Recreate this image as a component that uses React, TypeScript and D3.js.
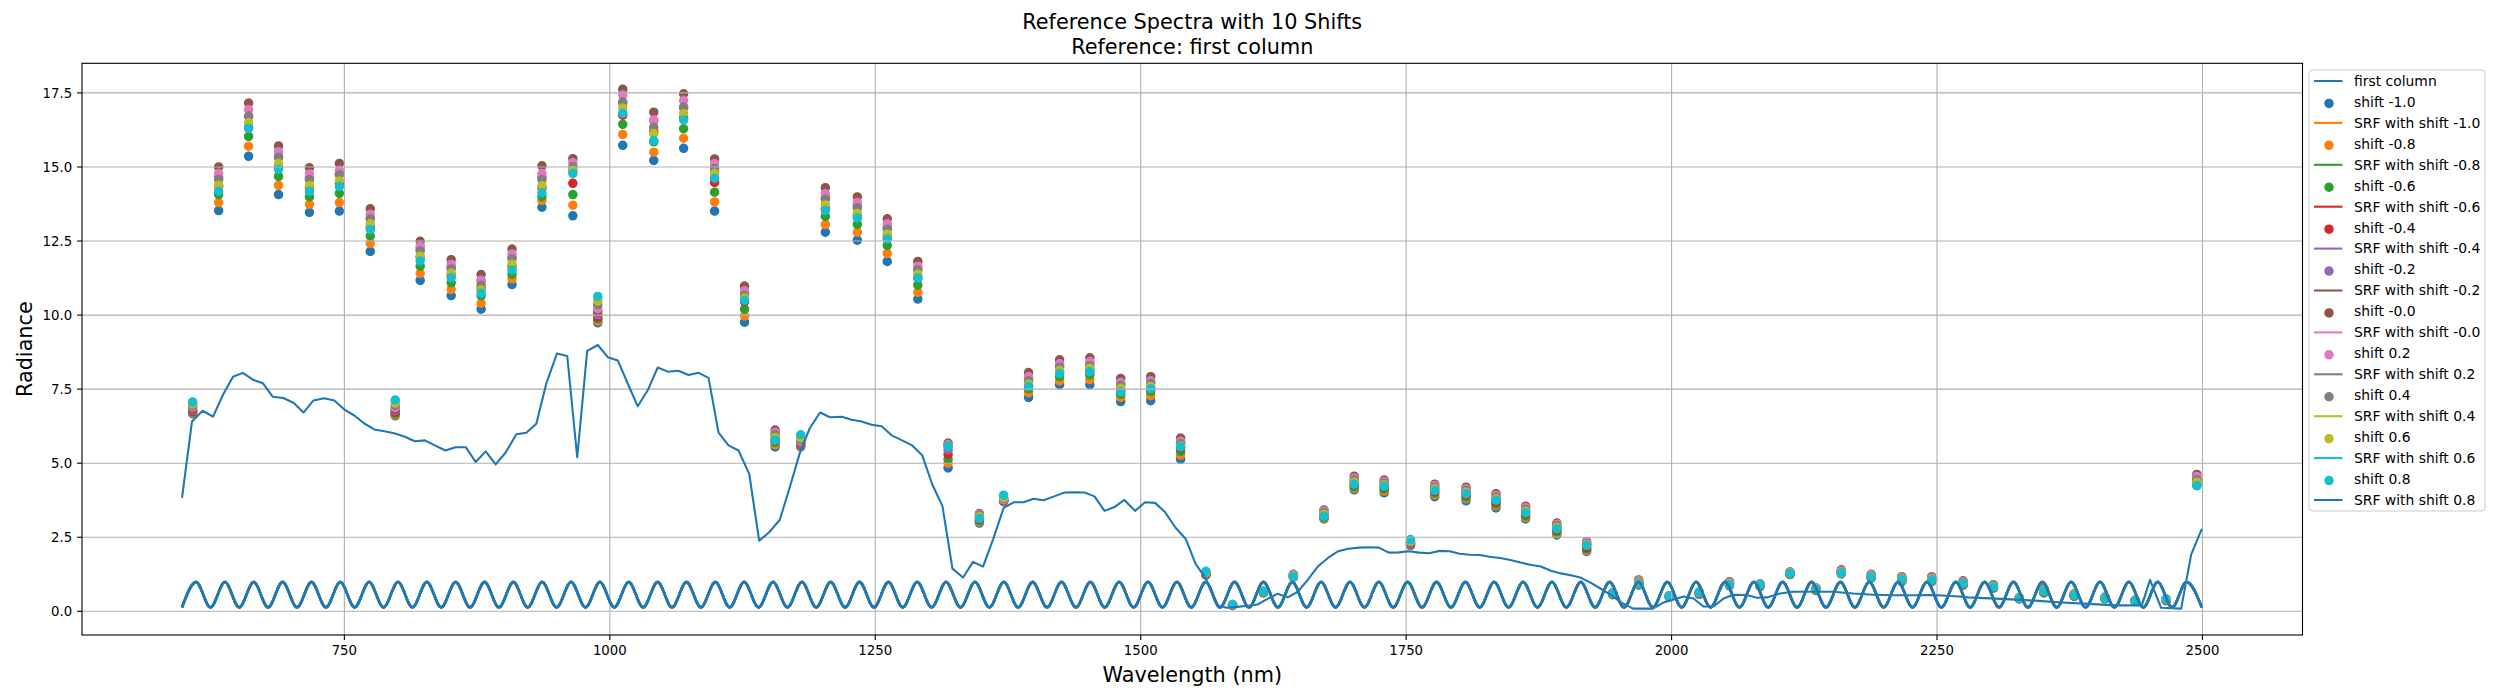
import React from 'react';
import * as d3 from 'd3';

// ---------------- DATA ----------------
const bandCenters = [607.1, 631.6, 659.8, 688.0, 717.1, 745.3, 774.4, 797.9, 821.4, 850.6, 878.8, 907.9, 936.1, 965.2, 988.7, 1012.2, 1041.4, 1069.5, 1098.7, 1126.9, 1155.7, 1179.8, 1203.0, 1233.1, 1261.3, 1290.1, 1318.6, 1348.1, 1370.9, 1394.4, 1423.6, 1452.1, 1481.2, 1509.4, 1537.6, 1561.4, 1586.5, 1615.6, 1643.8, 1672.6, 1701.1, 1729.3, 1754.1, 1776.9, 1806.4, 1834.6, 1862.5, 1891.9, 1920.0, 1944.5, 1969.0, 1997.8, 2026.0, 2054.5, 2083.3, 2111.5, 2136.0, 2159.8, 2188.0, 2216.8, 2245.0, 2274.5, 2303.1, 2327.4, 2350.6, 2379.2, 2408.2, 2436.5, 2465.7, 2494.7];

const radShiftM10 = [6.67, 13.53, 15.36, 14.07, 13.47, 13.51, 12.15, 6.60, 11.17, 10.66, 10.20, 11.03, 13.64, 13.35, 9.74, 15.73, 15.22, 15.63, 13.51, 9.76, 5.55, 5.55, 12.80, 12.53, 11.81, 10.54, 4.84, 2.98, 3.70, 7.22, 7.65, 7.65, 7.08, 7.11, 5.13, 1.22, 0.20, 0.62, 1.15, 3.12, 4.10, 4.00, 2.22, 3.87, 3.73, 3.49, 3.12, 2.58, 2.02, 0.56, 0.88, 0.48, 0.57, 0.86, 0.84, 1.24, 0.70, 1.26, 1.12, 1.00, 1.00, 0.88, 0.78, 0.42, 0.62, 0.50, 0.42, 0.34, 0.36, 4.25];
const radShiftM08 = [6.70, 13.80, 15.70, 14.38, 13.74, 13.80, 12.42, 6.63, 11.41, 10.87, 10.40, 11.22, 13.87, 13.71, 9.80, 16.10, 15.50, 15.97, 13.82, 9.97, 5.62, 5.58, 13.06, 12.80, 12.08, 10.77, 5.00, 3.02, 3.71, 7.38, 7.78, 7.82, 7.22, 7.28, 5.27, 1.24, 0.20, 0.63, 1.16, 3.14, 4.15, 4.06, 2.24, 3.93, 3.80, 3.56, 3.17, 2.63, 2.06, 0.57, 0.90, 0.49, 0.58, 0.88, 0.85, 1.25, 0.71, 1.28, 1.14, 1.02, 1.02, 0.89, 0.79, 0.42, 0.63, 0.51, 0.42, 0.34, 0.36, 4.30];
const radShiftM06 = [6.73, 14.07, 16.03, 14.68, 13.99, 14.11, 12.67, 6.67, 11.65, 11.09, 10.65, 11.38, 14.00, 14.07, 9.87, 16.44, 15.85, 16.29, 14.15, 10.20, 5.70, 5.61, 13.33, 13.06, 12.35, 11.01, 5.14, 3.06, 3.72, 7.51, 7.92, 7.98, 7.33, 7.42, 5.40, 1.25, 0.21, 0.64, 1.18, 3.17, 4.20, 4.12, 2.26, 3.99, 3.86, 3.62, 3.22, 2.68, 2.10, 0.58, 0.92, 0.50, 0.59, 0.90, 0.86, 1.26, 0.72, 1.30, 1.15, 1.04, 1.04, 0.90, 0.80, 0.43, 0.64, 0.52, 0.43, 0.35, 0.37, 4.36];
const radShiftM04 = [6.76, 14.35, 16.33, 14.98, 14.30, 14.45, 12.98, 6.72, 11.95, 11.35, 10.90, 11.65, 14.30, 14.45, 9.93, 16.75, 16.20, 16.65, 14.48, 10.45, 5.78, 5.64, 13.60, 13.35, 12.65, 11.25, 5.30, 3.10, 3.73, 7.62, 8.05, 8.12, 7.45, 7.52, 5.52, 1.26, 0.21, 0.65, 1.20, 3.22, 4.28, 4.20, 2.28, 4.05, 3.93, 3.69, 3.28, 2.74, 2.15, 0.59, 0.95, 0.50, 0.60, 0.93, 0.88, 1.28, 0.73, 1.33, 1.17, 1.07, 1.07, 0.92, 0.82, 0.43, 0.66, 0.53, 0.44, 0.35, 0.37, 4.42];
const radShiftM02 = [6.80, 14.65, 16.70, 15.35, 14.63, 14.78, 13.28, 6.77, 12.25, 11.62, 11.15, 11.95, 14.65, 14.88, 10.01, 17.15, 16.55, 17.00, 14.85, 10.75, 5.92, 5.67, 13.95, 13.70, 12.95, 11.55, 5.45, 3.18, 3.74, 7.85, 8.30, 8.35, 7.68, 7.72, 5.70, 1.27, 0.22, 0.66, 1.22, 3.30, 4.40, 4.30, 2.30, 4.15, 4.05, 3.80, 3.40, 2.85, 2.24, 0.60, 1.00, 0.51, 0.62, 0.96, 0.90, 1.30, 0.75, 1.36, 1.20, 1.11, 1.11, 0.96, 0.85, 0.44, 0.70, 0.56, 0.46, 0.36, 0.38, 4.50];
const radShiftM00 = [6.85, 15.00, 17.16, 15.71, 14.97, 15.12, 13.59, 6.82, 12.49, 11.87, 11.37, 12.23, 15.04, 15.28, 10.11, 17.62, 16.85, 17.47, 15.27, 10.98, 6.12, 5.70, 14.30, 13.99, 13.25, 11.81, 5.68, 3.30, 3.75, 8.06, 8.49, 8.56, 7.86, 7.92, 5.85, 1.28, 0.22, 0.68, 1.25, 3.42, 4.56, 4.43, 2.32, 4.29, 4.19, 3.97, 3.55, 2.98, 2.35, 0.62, 1.06, 0.52, 0.65, 1.00, 0.93, 1.33, 0.79, 1.40, 1.25, 1.17, 1.17, 1.03, 0.90, 0.46, 0.77, 0.60, 0.48, 0.37, 0.39, 4.62];
const radShiftP02 = [6.90, 14.78, 16.94, 15.51, 14.76, 14.89, 13.40, 6.88, 12.33, 11.71, 11.18, 12.06, 14.78, 15.15, 10.22, 17.43, 16.59, 17.24, 15.11, 10.82, 6.04, 5.74, 14.10, 13.80, 13.08, 11.65, 5.63, 3.28, 3.77, 7.92, 8.36, 8.43, 7.73, 7.78, 5.74, 1.29, 0.22, 0.68, 1.24, 3.38, 4.50, 4.38, 2.34, 4.24, 4.14, 3.92, 3.50, 2.94, 2.32, 0.62, 1.03, 0.52, 0.65, 0.98, 0.92, 1.32, 0.78, 1.38, 1.23, 1.15, 1.15, 1.01, 0.88, 0.46, 0.75, 0.59, 0.47, 0.37, 0.40, 4.55];
const radShiftP04 = [6.95, 14.58, 16.72, 15.32, 14.57, 14.73, 13.24, 6.95, 12.16, 11.56, 11.01, 11.90, 14.57, 15.01, 10.35, 17.20, 16.34, 17.02, 14.95, 10.67, 5.96, 5.79, 13.91, 13.62, 12.90, 11.52, 5.60, 3.24, 3.80, 7.78, 8.24, 8.29, 7.62, 7.69, 5.66, 1.30, 0.23, 0.67, 1.22, 3.33, 4.43, 4.33, 2.36, 4.18, 4.08, 3.86, 3.44, 2.89, 2.28, 0.61, 1.00, 0.52, 0.64, 0.95, 0.92, 1.31, 0.77, 1.35, 1.21, 1.12, 1.12, 0.98, 0.86, 0.45, 0.72, 0.57, 0.46, 0.37, 0.40, 4.45];
const radShiftP06 = [7.00, 14.38, 16.49, 15.12, 14.37, 14.53, 13.08, 7.03, 11.99, 11.41, 10.85, 11.72, 14.37, 14.88, 10.48, 16.99, 16.13, 16.80, 14.78, 10.58, 5.87, 5.86, 13.72, 13.43, 12.73, 11.38, 5.58, 3.19, 3.84, 7.67, 8.13, 8.20, 7.53, 7.59, 5.58, 1.32, 0.23, 0.67, 1.20, 3.27, 4.36, 4.27, 2.38, 4.13, 4.02, 3.80, 3.38, 2.83, 2.25, 0.61, 0.97, 0.52, 0.64, 0.93, 0.91, 1.30, 0.76, 1.33, 1.19, 1.09, 1.09, 0.95, 0.84, 0.45, 0.69, 0.56, 0.45, 0.36, 0.41, 4.36];
const radShiftP08 = [7.07, 14.18, 16.30, 14.92, 14.18, 14.34, 12.89, 7.13, 11.83, 11.26, 10.74, 11.52, 14.13, 14.78, 10.63, 16.81, 15.89, 16.59, 14.62, 10.50, 5.78, 5.96, 13.53, 13.28, 12.57, 11.25, 5.57, 3.13, 3.92, 7.59, 8.02, 8.09, 7.41, 7.51, 5.55, 1.35, 0.23, 0.66, 1.17, 3.21, 4.29, 4.22, 2.42, 4.08, 3.97, 3.75, 3.32, 2.78, 2.22, 0.60, 0.93, 0.52, 0.63, 0.90, 0.90, 1.28, 0.74, 1.30, 1.17, 1.06, 1.06, 0.93, 0.82, 0.44, 0.66, 0.54, 0.44, 0.36, 0.42, 4.24];

const shiftLabels = ['-1.0', '-0.8', '-0.6', '-0.4', '-0.2', '-0.0', '0.2', '0.4', '0.6', '0.8'];

const refWavelengths = [597.1, 606.5, 616.5, 626.3, 635.7, 645.1, 654.4, 663.8, 673.2, 682.6, 692.4, 702.1, 711.5, 720.9, 730.9, 740.6, 750.0, 759.4, 768.8, 778.2, 787.6, 797.0, 806.4, 816.4, 825.8, 835.2, 845.2, 854.6, 864.3, 873.7, 883.1, 892.5, 901.9, 912.0, 921.4, 930.8, 940.2, 950.2, 959.9, 969.3, 978.7, 988.7, 998.1, 1007.5, 1016.9, 1026.3, 1035.7, 1045.1, 1054.5, 1064.5, 1074.2, 1083.6, 1093.0, 1102.4, 1111.8, 1121.2, 1131.3, 1140.7, 1150.1, 1160.1, 1169.5, 1178.9, 1188.3, 1198.0, 1207.4, 1218.4, 1227.8, 1237.2, 1246.6, 1256.0, 1265.4, 1274.8, 1284.8, 1294.2, 1303.6, 1313.3, 1322.7, 1332.7, 1342.1, 1351.5, 1360.9, 1370.9, 1380.3, 1389.7, 1399.1, 1408.5, 1418.5, 1428.3, 1437.7, 1447.1, 1456.5, 1465.9, 1475.3, 1484.6, 1494.7, 1504.1, 1513.5, 1522.9, 1532.9, 1542.3, 1551.7, 1561.4, 1571.7, 1581.1, 1591.2, 1600.6, 1610.0, 1619.4, 1628.8, 1638.5, 1647.9, 1657.3, 1667.3, 1676.7, 1686.1, 1695.5, 1705.5, 1714.9, 1724.3, 1733.7, 1743.1, 1752.5, 1762.2, 1771.6, 1781.6, 1791.0, 1800.4, 1809.8, 1819.2, 1828.6, 1838.7, 1848.1, 1857.5, 1866.9, 1876.9, 1886.3, 1895.7, 1905.1, 1914.8, 1923.6, 1933.0, 1942.4, 1952.4, 1963.7, 1982.5, 1992.5, 2011.3, 2020.7, 2030.0, 2039.5, 2048.9, 2058.3, 2070.8, 2080.2, 2089.6, 2102.0, 2114.7, 2133.5, 2152.3, 2171.0, 2189.8, 2208.6, 2227.4, 2246.2, 2271.3, 2279.2, 2310.7, 2342.1, 2367.3, 2389.3, 2417.6, 2442.8, 2450.6, 2461.0, 2479.9, 2489.3, 2499.4];
const refRadiance = [3.83, 6.41, 6.77, 6.57, 7.31, 7.92, 8.05, 7.82, 7.70, 7.24, 7.20, 7.04, 6.71, 7.12, 7.19, 7.12, 6.81, 6.61, 6.34, 6.14, 6.08, 6.01, 5.90, 5.74, 5.77, 5.60, 5.43, 5.54, 5.54, 5.04, 5.40, 4.96, 5.36, 5.98, 6.03, 6.33, 7.69, 8.70, 8.62, 5.20, 8.79, 8.99, 8.58, 8.47, 7.69, 6.92, 7.46, 8.23, 8.09, 8.12, 7.98, 8.05, 7.88, 6.03, 5.60, 5.43, 4.64, 2.38, 2.67, 3.09, 4.19, 5.34, 6.18, 6.71, 6.55, 6.57, 6.47, 6.41, 6.30, 6.25, 5.94, 5.78, 5.60, 5.27, 4.29, 3.55, 1.44, 1.14, 1.67, 1.51, 2.42, 3.49, 3.68, 3.68, 3.80, 3.75, 3.88, 4.01, 4.02, 4.01, 3.88, 3.39, 3.52, 3.76, 3.39, 3.68, 3.66, 3.35, 2.82, 2.45, 1.60, 1.10, 0.20, 0.12, 0.15, 0.19, 0.23, 0.42, 0.59, 0.47, 0.66, 1.06, 1.53, 1.81, 2.03, 2.11, 2.15, 2.16, 2.15, 1.98, 1.99, 2.03, 1.98, 1.96, 2.04, 2.03, 1.94, 1.91, 1.90, 1.84, 1.80, 1.73, 1.65, 1.57, 1.51, 1.37, 1.28, 1.22, 1.13, 0.97, 0.77, 0.56, 0.30, 0.09, 0.09, 0.30, 0.50, 0.43, 0.16, 0.16, 0.43, 0.56, 0.55, 0.46, 0.47, 0.60, 0.66, 0.66, 0.66, 0.60, 0.56, 0.54, 0.54, 0.55, 0.50, 0.47, 0.42, 0.36, 0.30, 0.26, 0.20, 0.20, 1.06, 0.12, 0.09, 1.91, 2.78];

const srfPeakWavelengths = [610.3, 637.5, 664.6, 691.8, 719.0, 746.2, 773.3, 800.5, 827.7, 854.8, 882.0, 909.2, 936.3, 963.5, 990.7, 1017.8, 1045.0, 1072.2, 1099.4, 1126.5, 1153.7, 1180.9, 1208.0, 1235.2, 1262.4, 1289.5, 1316.7, 1343.9, 1371.1, 1398.2, 1425.4, 1452.6, 1479.7, 1506.9, 1534.1, 1561.2, 1588.4, 1615.6, 1642.8, 1669.9, 1697.1, 1724.3, 1751.4, 1778.6, 1805.8, 1832.9, 1860.1, 1887.3, 1914.5, 1941.6, 1968.8, 1996.0, 2023.1, 2050.3, 2077.5, 2104.6, 2131.8, 2159.0, 2186.2, 2213.3, 2240.5, 2267.7, 2294.8, 2322.0, 2349.2, 2376.3, 2403.5, 2430.7, 2457.9, 2485.0];
const srfTroughWavelengths = [597.1, 623.9, 651.0, 678.2, 705.4, 732.6, 759.7, 786.9, 814.1, 841.2, 868.4, 895.6, 922.7, 949.9, 977.1, 1004.2, 1031.4, 1058.6, 1085.8, 1112.9, 1140.1, 1167.3, 1194.4, 1221.6, 1248.8, 1275.9, 1303.1, 1330.3, 1357.5, 1384.6, 1411.8, 1439.0, 1466.1, 1493.3, 1520.5, 1547.6, 1574.8, 1602.0, 1629.2, 1656.3, 1683.5, 1710.7, 1737.8, 1765.0, 1792.2, 1819.3, 1846.5, 1873.7, 1900.9, 1928.0, 1955.2, 1982.4, 2009.5, 2036.7, 2063.9, 2091.0, 2118.2, 2145.4, 2172.6, 2199.7, 2226.9, 2254.1, 2281.2, 2308.4, 2335.6, 2362.7, 2389.9, 2417.1, 2444.3, 2471.4, 2499.4];
const SRF_PEAK = 0.99;
const SRF_TROUGH = 0.13;

const xTicks = [750, 1000, 1250, 1500, 1750, 2000, 2250, 2500];
const yTicks = [0, 2.5, 5, 7.5, 10, 12.5, 15, 17.5];

const palette = ['#1f77b4', '#ff7f0e', '#2ca02c', '#d62728', '#9467bd', '#8c564b', '#e377c2', '#7f7f7f', '#bcbd22', '#17becf'];

const shiftSeries = [radShiftM10, radShiftM08, radShiftM06, radShiftM04, radShiftM02, radShiftM00, radShiftP02, radShiftP04, radShiftP06, radShiftP08];

// ---------------- LAYOUT ----------------
const W = 2500;
const H = 700;
const AX_L = 82;
const AX_R = 2302.5;
const AX_T = 63.3;
const AX_B = 635;
const FONT = '"DejaVu Sans", Verdana, sans-serif';

export default function App() {
  const x = d3.scaleLinear().domain([502.9, 2594.2]).range([AX_L, AX_R]);
  const y = d3.scaleLinear().domain([-0.8, 18.5]).range([AX_B, AX_T]);

  const refPts: [number, number][] = refWavelengths.map((w, i) => [w, refRadiance[i]]);
  const refLine = d3.line<[number, number]>().x(d => x(d[0])).y(d => y(d[1]))(refPts) || '';

  const srfPts: [number, number][] = [
    ...srfPeakWavelengths.map(w => [w, SRF_PEAK] as [number, number]),
    ...srfTroughWavelengths.map(w => [w, SRF_TROUGH] as [number, number]),
  ].sort((a, b) => a[0] - b[0]);
  const srfPath = d3.line<[number, number]>().x(d => x(d[0])).y(d => y(d[1])).curve(d3.curveMonotoneX)(srfPts) || '';

  const fmtY = d3.format('.1f');

  // legend
  const legX = 2309;
  const legY = 70;
  const legW = 176;
  const legRow0 = 81;
  const legStep = 20.95;
  const legendItems: { kind: 'line' | 'dot'; color: string; label: string }[] = [
    { kind: 'line', color: palette[0], label: 'first column' },
  ];
  shiftLabels.forEach((s, i) => {
    legendItems.push({ kind: 'dot', color: palette[i % 10], label: `shift ${s}` });
    legendItems.push({ kind: 'line', color: palette[(i + 1) % 10], label: `SRF with shift ${s}` });
  });
  const legH = (legendItems.length - 1) * legStep + 22;

  return (
    <svg width={W} height={H} viewBox={`0 0 ${W} ${H}`} style={{ position: 'absolute', left: 0, top: 0, background: '#fff' }} fontFamily={FONT}>
      <rect x={0} y={0} width={W} height={H} fill="#fff" />
      <defs>
        <clipPath id="axclip">
          <rect x={AX_L} y={AX_T} width={AX_R - AX_L} height={AX_B - AX_T} />
        </clipPath>
      </defs>

      {/* scatter (zorder 1, below grid) */}
      <g clipPath="url(#axclip)">
        {shiftSeries.map((vals, si) => (
          <g key={si} fill={palette[si % 10]} stroke={palette[si % 10]} strokeWidth={1.3}>
            {vals.map((v, j) => (
              <circle key={j} cx={x(bandCenters[j])} cy={y(v)} r={4.1} />
            ))}
          </g>
        ))}
      </g>

      {/* grid */}
      <g stroke="#b0b0b0" strokeWidth={1.1}>
        {xTicks.map(t => (
          <line key={'gx' + t} x1={x(t)} x2={x(t)} y1={AX_T} y2={AX_B} />
        ))}
        {yTicks.map(t => (
          <line key={'gy' + t} x1={AX_L} x2={AX_R} y1={y(t)} y2={y(t)} />
        ))}
      </g>

      {/* lines */}
      <g clipPath="url(#axclip)" fill="none" strokeLinejoin="round" strokeLinecap="butt">
        <path d={refLine} stroke={palette[0]} strokeWidth={2.08} />
        {shiftLabels.map((s, i) => (
          <path key={'srf' + i} d={srfPath} stroke={palette[(i + 1) % 10]} strokeWidth={i === shiftLabels.length - 1 ? 2.7 : 2.3} />
        ))}
      </g>

      {/* spines */}
      <rect x={AX_L} y={AX_T} width={AX_R - AX_L} height={AX_B - AX_T} fill="none" stroke="#000" strokeWidth={1.1} />

      {/* ticks */}
      <g stroke="#000" strokeWidth={1.1}>
        {xTicks.map(t => (
          <line key={'tx' + t} x1={x(t)} x2={x(t)} y1={AX_B} y2={AX_B + 4.9} />
        ))}
        {yTicks.map(t => (
          <line key={'ty' + t} x1={AX_L - 4.9} x2={AX_L} y1={y(t)} y2={y(t)} />
        ))}
      </g>
      <g fontSize={13.3} fill="#000">
        {xTicks.map(t => (
          <text key={'lx' + t} x={x(t)} y={655} textAnchor="middle">{String(t)}</text>
        ))}
        {yTicks.map(t => (
          <text key={'ly' + t} x={AX_L - 9.8} y={y(t)} dy="0.35em" textAnchor="end">{fmtY(t)}</text>
        ))}
      </g>

      {/* axis labels */}
      <text x={(AX_L + AX_R) / 2} y={682} textAnchor="middle" fontSize={20.8} fill="#000">Wavelength (nm)</text>
      <text transform={`translate(32, ${(AX_T + AX_B) / 2}) rotate(-90)`} textAnchor="middle" fontSize={20.8} fill="#000">Radiance</text>

      {/* title */}
      <text x={(AX_L + AX_R) / 2} y={29} textAnchor="middle" fontSize={20.8} fill="#000">Reference Spectra with 10 Shifts</text>
      <text x={(AX_L + AX_R) / 2} y={54} textAnchor="middle" fontSize={20.8} fill="#000">Reference: first column</text>

      {/* legend */}
      <g>
        <rect x={legX} y={legY} width={legW} height={legH} rx={4} ry={4} fill="#fff" fillOpacity={0.8} stroke="#cccccc" strokeWidth={1.1} />
        {legendItems.map((it, i) => {
          const cy = legRow0 + i * legStep;
          return (
            <g key={'leg' + i}>
              {it.kind === 'line' ? (
                <line x1={legX + 5} x2={legX + 33.5} y1={cy} y2={cy} stroke={it.color} strokeWidth={2.08} />
              ) : (
                <circle cx={legX + 20} cy={cy + 1.5} r={4.1} fill={it.color} stroke={it.color} strokeWidth={1.3} />
              )}
              <text x={legX + 45} y={cy} dy="0.35em" fontSize={13.9} fill="#000">{it.label}</text>
            </g>
          );
        })}
      </g>
    </svg>
  );
}
